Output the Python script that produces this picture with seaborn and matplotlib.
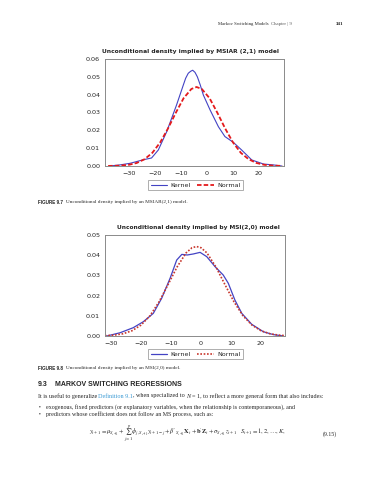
import numpy as np
import pandas as pd
import matplotlib
matplotlib.use("Agg")
import matplotlib.pyplot as plt
import seaborn as sns

# Figure 9.7 - MSIAR(2,1): kernel density vs normal
k1_x = [-37.3, -33.5, -29.6, -27.0, -24.5, -21.3, -18.7, -15.5, -11.7, -9.1,
        -8.2, -7.2, -6.3, -5.5, -4.6, -3.7, -2.6, -1.4, 1.2, 4.4, 6.9, 10.1,
        13.3, 17.2, 21.7, 25.5, 28.7]
k1_y = [0.0, 0.0006, 0.0015, 0.0025, 0.0035, 0.0045, 0.0090, 0.0192, 0.0342, 0.0454,
        0.0492, 0.0520, 0.0531, 0.0537, 0.0525, 0.0500, 0.0455, 0.0398, 0.0314, 0.0220,
        0.0165, 0.0133, 0.0090, 0.0034, 0.0011, 0.0006, 0.0]
n1_x = [-38, -34, -30, -27, -24, -21, -18, -15, -12, -9, -6, -4, -2, 1, 4, 7, 10,
        13, 16, 19, 22, 25, 29]
n1_y = [0.00004, 0.00017, 0.00068, 0.0017, 0.0038, 0.0074, 0.0132, 0.0210, 0.0298,
        0.0380, 0.0432, 0.0443, 0.0432, 0.0380, 0.0298, 0.0210, 0.0132, 0.0074,
        0.0038, 0.0017, 0.00068, 0.00025, 0.00005]

# Figure 9.8 - MSI(2,0)
k2_x = [-31.4, -27.0, -22.6, -19.2, -15.9, -13.1, -10.3, -8.1, -6.4, -4.6, -2.6,
        -0.3, 1.9, 4.7, 7.4, 9.1, 11.3, 13.6, 16.9, 20.8, 24.1, 27.4]
k2_y = [0.0, 0.0016, 0.0041, 0.0071, 0.0112, 0.0187, 0.0286, 0.0376, 0.0404, 0.0401,
        0.0406, 0.0414, 0.0393, 0.0343, 0.0302, 0.0261, 0.0178, 0.0112, 0.0058,
        0.0021, 0.0007, 0.0]
n2_x = [-32, -29, -26, -23, -20, -17, -14, -11, -8, -5, -3, -1.5, 0, 2, 5, 8, 11,
        14, 17, 20, 23, 26, 28]
n2_y = [0.00014, 0.00042, 0.0011, 0.0026, 0.0054, 0.0100, 0.0169, 0.0254, 0.0341,
        0.0411, 0.0437, 0.0443, 0.0437, 0.0411, 0.0341, 0.0254, 0.0169, 0.0100,
        0.0054, 0.0026, 0.0011, 0.00042, 0.00021]

x_ticks = [-30, -20, -10, 0, 10, 20]
y1_ticks = [0.00, 0.01, 0.02, 0.03, 0.04, 0.05, 0.06]
y2_ticks = [0.00, 0.01, 0.02, 0.03, 0.04, 0.05]

BLUE = "#4343c4"
RED = "#e41a1c"
DKRED = "#c8372d"
FRAME = "#8a8a8a"

sns.set_style("white")
plt.rcParams["font.family"] = ["DejaVu Sans"]
plt.rcParams["mathtext.fontset"] = "stix"

W, H = 375, 480
fig = plt.figure(figsize=(W / 100, H / 100), dpi=100)
r = fig.canvas.get_renderer()


def box(l, t, r, b):
    return [l / W, 1 - b / H, (r - l) / W, (b - t) / H]


def P(x, y):
    return x / W, 1 - y / H


def style_axes(ax, yt, xlim, ylim):
    ax.set_xlim(*xlim)
    ax.set_ylim(*ylim)
    ax.set_xticks(x_ticks)
    ax.set_yticks(yt)
    ax.set_yticklabels([f"{v:.2f}" for v in yt])
    ax.set_xlabel("")
    ax.set_ylabel("")
    for s in ax.spines.values():
        s.set_color(FRAME)
        s.set_linewidth(0.7)
    ax.tick_params(axis="both", labelsize=4.6, length=2, width=0.5,
                   color=FRAME, pad=1.5, direction="out")


def add_legend(handles, cy):
    leg = fig.legend(handles, ["Kernel", "Normal"], loc="center",
                     bbox_to_anchor=P(195.5, cy), ncol=2, fontsize=4.6,
                     frameon=True, fancybox=False, edgecolor=FRAME,
                     handlelength=2.6, columnspacing=1.0, handletextpad=0.5,
                     borderpad=0.35)
    leg.get_frame().set_linewidth(0.6)


def chain(x, y, parts, **kw):
    # write text pieces one after another; each piece has its own lead gap
    for lead, txt, extra in parts:
        t = fig.text(*P(x + lead, y), txt, va="center", **{**kw, **extra})
        x = t.get_window_extent(r).x1


# chart 1
df1k = pd.DataFrame({"x": k1_x, "y": k1_y})
df1n = pd.DataFrame({"x": n1_x, "y": n1_y})
ax1 = fig.add_axes(box(105, 59, 284, 166))
sns.lineplot(data=df1k, x="x", y="y", ax=ax1, color=BLUE, linewidth=0.8, sort=False)
sns.lineplot(data=df1n, x="x", y="y", ax=ax1, color=RED, linewidth=1.3,
             linestyle=(0, (2.5, 1.2)), sort=False)
style_axes(ax1, y1_ticks, (-39.2, 29.6), (0, 0.06))
add_legend(ax1.get_lines()[:2], 185)
fig.text(*P(190, 52), "Unconditional density implied by MSIAR (2,1) model",
         ha="center", va="center", fontsize=4.3, fontweight="bold")

# chart 2
df2k = pd.DataFrame({"x": k2_x, "y": k2_y})
df2n = pd.DataFrame({"x": n2_x, "y": n2_y})
ax2 = fig.add_axes(box(105, 235, 285, 336))
sns.lineplot(data=df2k, x="x", y="y", ax=ax2, color=BLUE, linewidth=0.9, sort=False)
sns.lineplot(data=df2n, x="x", y="y", ax=ax2, color=DKRED, linewidth=1.2,
             linestyle=(0, (1, 1)), sort=False)
style_axes(ax2, y2_ticks, (-32, 28), (0, 0.05))
add_legend(ax2.get_lines()[:2], 354)
fig.text(*P(198, 227), "Unconditional density implied by MSI(2,0) model",
         ha="center", va="center", fontsize=4.2, fontweight="bold")

# page text
SERIF = ["Liberation Serif", "DejaVu Serif"]
SANS = ["Liberation Sans", "DejaVu Sans"]
chain(218, 24, [(0, "Markov Switching Models", {}),
                (2, "Chapter | 9", {"color": "#555555"})],
      family=SERIF, fontsize=3.4)
fig.text(*P(343, 24), "341", family=SERIF, fontsize=3.6, va="center",
         ha="right", fontweight="bold")

fig.text(*P(38, 202), "FIGURE 9.7", family=SANS, fontsize=3.3, fontweight="bold",
         va="center")
fig.text(*P(66, 202), "Unconditional density implied by an MSIAR(2,1) model.",
         family=SERIF, fontsize=3.8, va="center")
fig.text(*P(38, 368), "FIGURE 9.8", family=SANS, fontsize=3.3, fontweight="bold",
         va="center")
fig.text(*P(66, 368), "Unconditional density implied by an MSI(2,0) model.",
         family=SERIF, fontsize=3.8, va="center")

fig.text(*P(38, 384), "9.3", family=SANS, fontsize=5.0, fontweight="bold",
         va="center")
fig.text(*P(55, 384), "MARKOV SWITCHING REGRESSIONS", family=SANS, fontsize=5.0,
         fontweight="bold", va="center")

chain(38, 396, [(0, "It is useful to generalize", {}),
                (1.2, "Definition 9.1", {"color": "#3a9ad4"}),
                (0, ", when specialized to", {}),
                (1.2, "N", {"style": "italic"}),
                (1.2, "= 1, to reflect a more general form that also includes:", {})],
      family=SERIF, fontsize=4.4)

for yy, txt in [(407, "exogenous, fixed predictors (or explanatory variables, when the relationship is contemporaneous), and"),
                (414, "predictors whose coefficient does not follow an MS process, such as:")]:
    fig.text(*P(39, yy), "\u2022", family=SERIF, fontsize=4.0, va="center")
    fig.text(*P(46, yy), txt, family=SERIF, fontsize=4.3, va="center")

eq = (r"$y_{t+1} = \mu_{S_{t+1}} + \sum_{j=1}^{p}\phi_{j,S_{t+1}} y_{t+1-j}"
      r" + \beta'_{S_{t+1}}\mathbf{X}_t + \mathbf{b}'\mathbf{Z}_t"
      r" + \sigma_{S_{t+1}} z_{t+1}\quad S_{t+1} = 1, 2, \ldots, K,$")
fig.text(*P(89, 434), eq, fontsize=4.6, va="center")
fig.text(*P(337, 434), "(9.15)", family=SERIF, fontsize=4.2, va="center",
         ha="right")

fig.savefig("out.png", dpi=100)
